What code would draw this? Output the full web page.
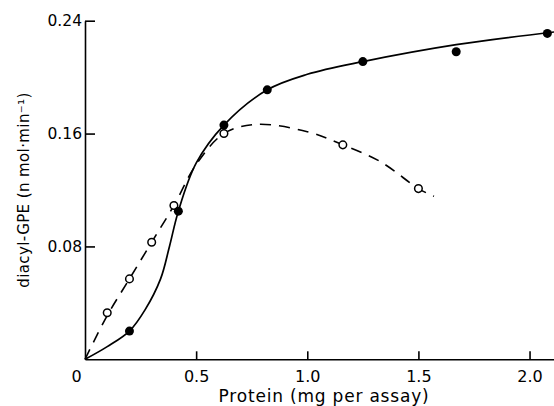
<!DOCTYPE html>
<html>
<head>
<meta charset="utf-8">
<script src="https://cdn.jsdelivr.net/npm/d3@7"></script>
<style>
  body { margin: 0; background: #fff; }
  text { font-family: "DejaVu Sans", sans-serif; fill: #000; }
  .axis path, .axis line { stroke: #000; stroke-width: 1.6; }
  .axis text { font-size: 15.5px; }
  .x-axis text { font-size: 16px; }
</style>
</head>
<body>
<div id="chart"></div>
<script>
// measured points (filled = solid curve, open = dashed curve)
var filledX = [0.2, 0.42, 0.625, 0.82, 1.25, 1.67, 2.08];
var filledY = [0.020, 0.105, 0.166, 0.191, 0.211, 0.218, 0.231];
var openX = [0.1, 0.2, 0.3, 0.4, 0.625, 1.16, 1.5];
var openY = [0.033, 0.057, 0.083, 0.109, 0.160, 0.152, 0.121];

// hand-drawn fitted curves
var solidX = [0, 0.1, 0.2, 0.27, 0.34, 0.38, 0.42, 0.5, 0.625, 0.82, 1.0, 1.25, 1.67, 2.11];
var solidY = [0, 0.009, 0.020, 0.035, 0.057, 0.080, 0.105, 0.139, 0.166, 0.191, 0.202, 0.211, 0.223, 0.232];
var dashX = [0, 0.1, 0.2, 0.3, 0.4, 0.5, 0.625, 0.77, 1.0, 1.16, 1.33, 1.5, 1.57];
var dashY = [0, 0.031, 0.057, 0.083, 0.109, 0.138, 0.160, 0.1665, 0.1613, 0.152, 0.140, 0.121, 0.1155];

var xTicks = [0, 0.5, 1.0, 1.5, 2.0];
var yTicks = [0.08, 0.16, 0.24];

var width = 554, height = 406;
var margin = { top: 20.7, right: 0, bottom: 46.7, left: 85 };

var svg = d3
  .select("#chart")
  .append("svg")
  .attr("width", width)
  .attr("height", height);

var xScale = d3
  .scaleLinear()
  .domain([0, 2.11])
  .range([margin.left, width - margin.right]);

var yScale = d3
  .scaleLinear()
  .domain([0, 0.24])
  .range([height - margin.bottom, margin.top]);

function zip(xs, ys) {
  return xs.map(function(x, i) {
    return { x: x, y: ys[i] };
  });
}

//x axis, ticks point inward
var xAxis = d3
  .axisBottom(xScale)
  .tickValues(xTicks)
  .tickSize(-8)
  .tickSizeOuter(0)
  .tickPadding(11)
  .tickFormat(function(d) {
    return d === 0 ? "0" : d3.format(".1f")(d);
  });

var gx = svg
  .append("g")
  .attr("class", "axis x-axis")
  .attr("transform", "translate(0," + yScale(0) + ")")
  .call(xAxis);
gx.selectAll(".tick")
  .filter(function(d) { return d === 0; })
  .select("text")
  .attr("dx", -9);
gx.selectAll(".tick")
  .filter(function(d) { return d === 0; })
  .select("line")
  .remove();

//y axis
var yAxis = d3
  .axisLeft(yScale)
  .tickValues(yTicks)
  .tickSize(-10)
  .tickSizeOuter(0)
  .tickPadding(3)
  .tickFormat(d3.format(".2f"));

svg
  .append("g")
  .attr("class", "axis")
  .attr("transform", "translate(" + xScale(0) + ",0)")
  .call(yAxis);

// axis titles
svg
  .append("text")
  .text("Protein (mg per assay)")
  .attr("x", 324)
  .attr("y", 402)
  .attr("text-anchor", "middle")
  .style("font-size", "17px")
  .style("letter-spacing", "0.8px");

svg
  .append("text")
  .text("diacyl-GPE (n mol\u00b7min\u207b\u00b9)")
  .attr("transform", "translate(29,190) rotate(-90)")
  .attr("text-anchor", "middle")
  .style("font-size", "15px")
  .style("letter-spacing", "0.4px");

// curves
var line = d3
  .line()
  .x(function(d) { return xScale(d.x); })
  .y(function(d) { return yScale(d.y); })
  .curve(d3.curveCatmullRom.alpha(0.5));

svg
  .append("path")
  .datum(zip(dashX, dashY))
  .attr("d", line)
  .attr("fill", "none")
  .attr("stroke", "#000")
  .attr("stroke-width", 1.6)
  .attr("stroke-dasharray", "11,8");

svg
  .append("path")
  .datum(zip(solidX, solidY))
  .attr("d", line)
  .attr("fill", "none")
  .attr("stroke", "#000")
  .attr("stroke-width", 1.7);

// points
svg
  .append("g")
  .selectAll("circle")
  .data(zip(openX, openY))
  .enter()
  .append("circle")
  .attr("cx", function(d) { return xScale(d.x); })
  .attr("cy", function(d) { return yScale(d.y); })
  .attr("r", 3.8)
  .attr("fill", "#fff")
  .attr("stroke", "#000")
  .attr("stroke-width", 1.5);

svg
  .append("g")
  .selectAll("circle")
  .data(zip(filledX, filledY))
  .enter()
  .append("circle")
  .attr("cx", function(d) { return xScale(d.x); })
  .attr("cy", function(d) { return yScale(d.y); })
  .attr("r", 4.5)
  .attr("fill", "#000");
</script>
</body>
</html>
